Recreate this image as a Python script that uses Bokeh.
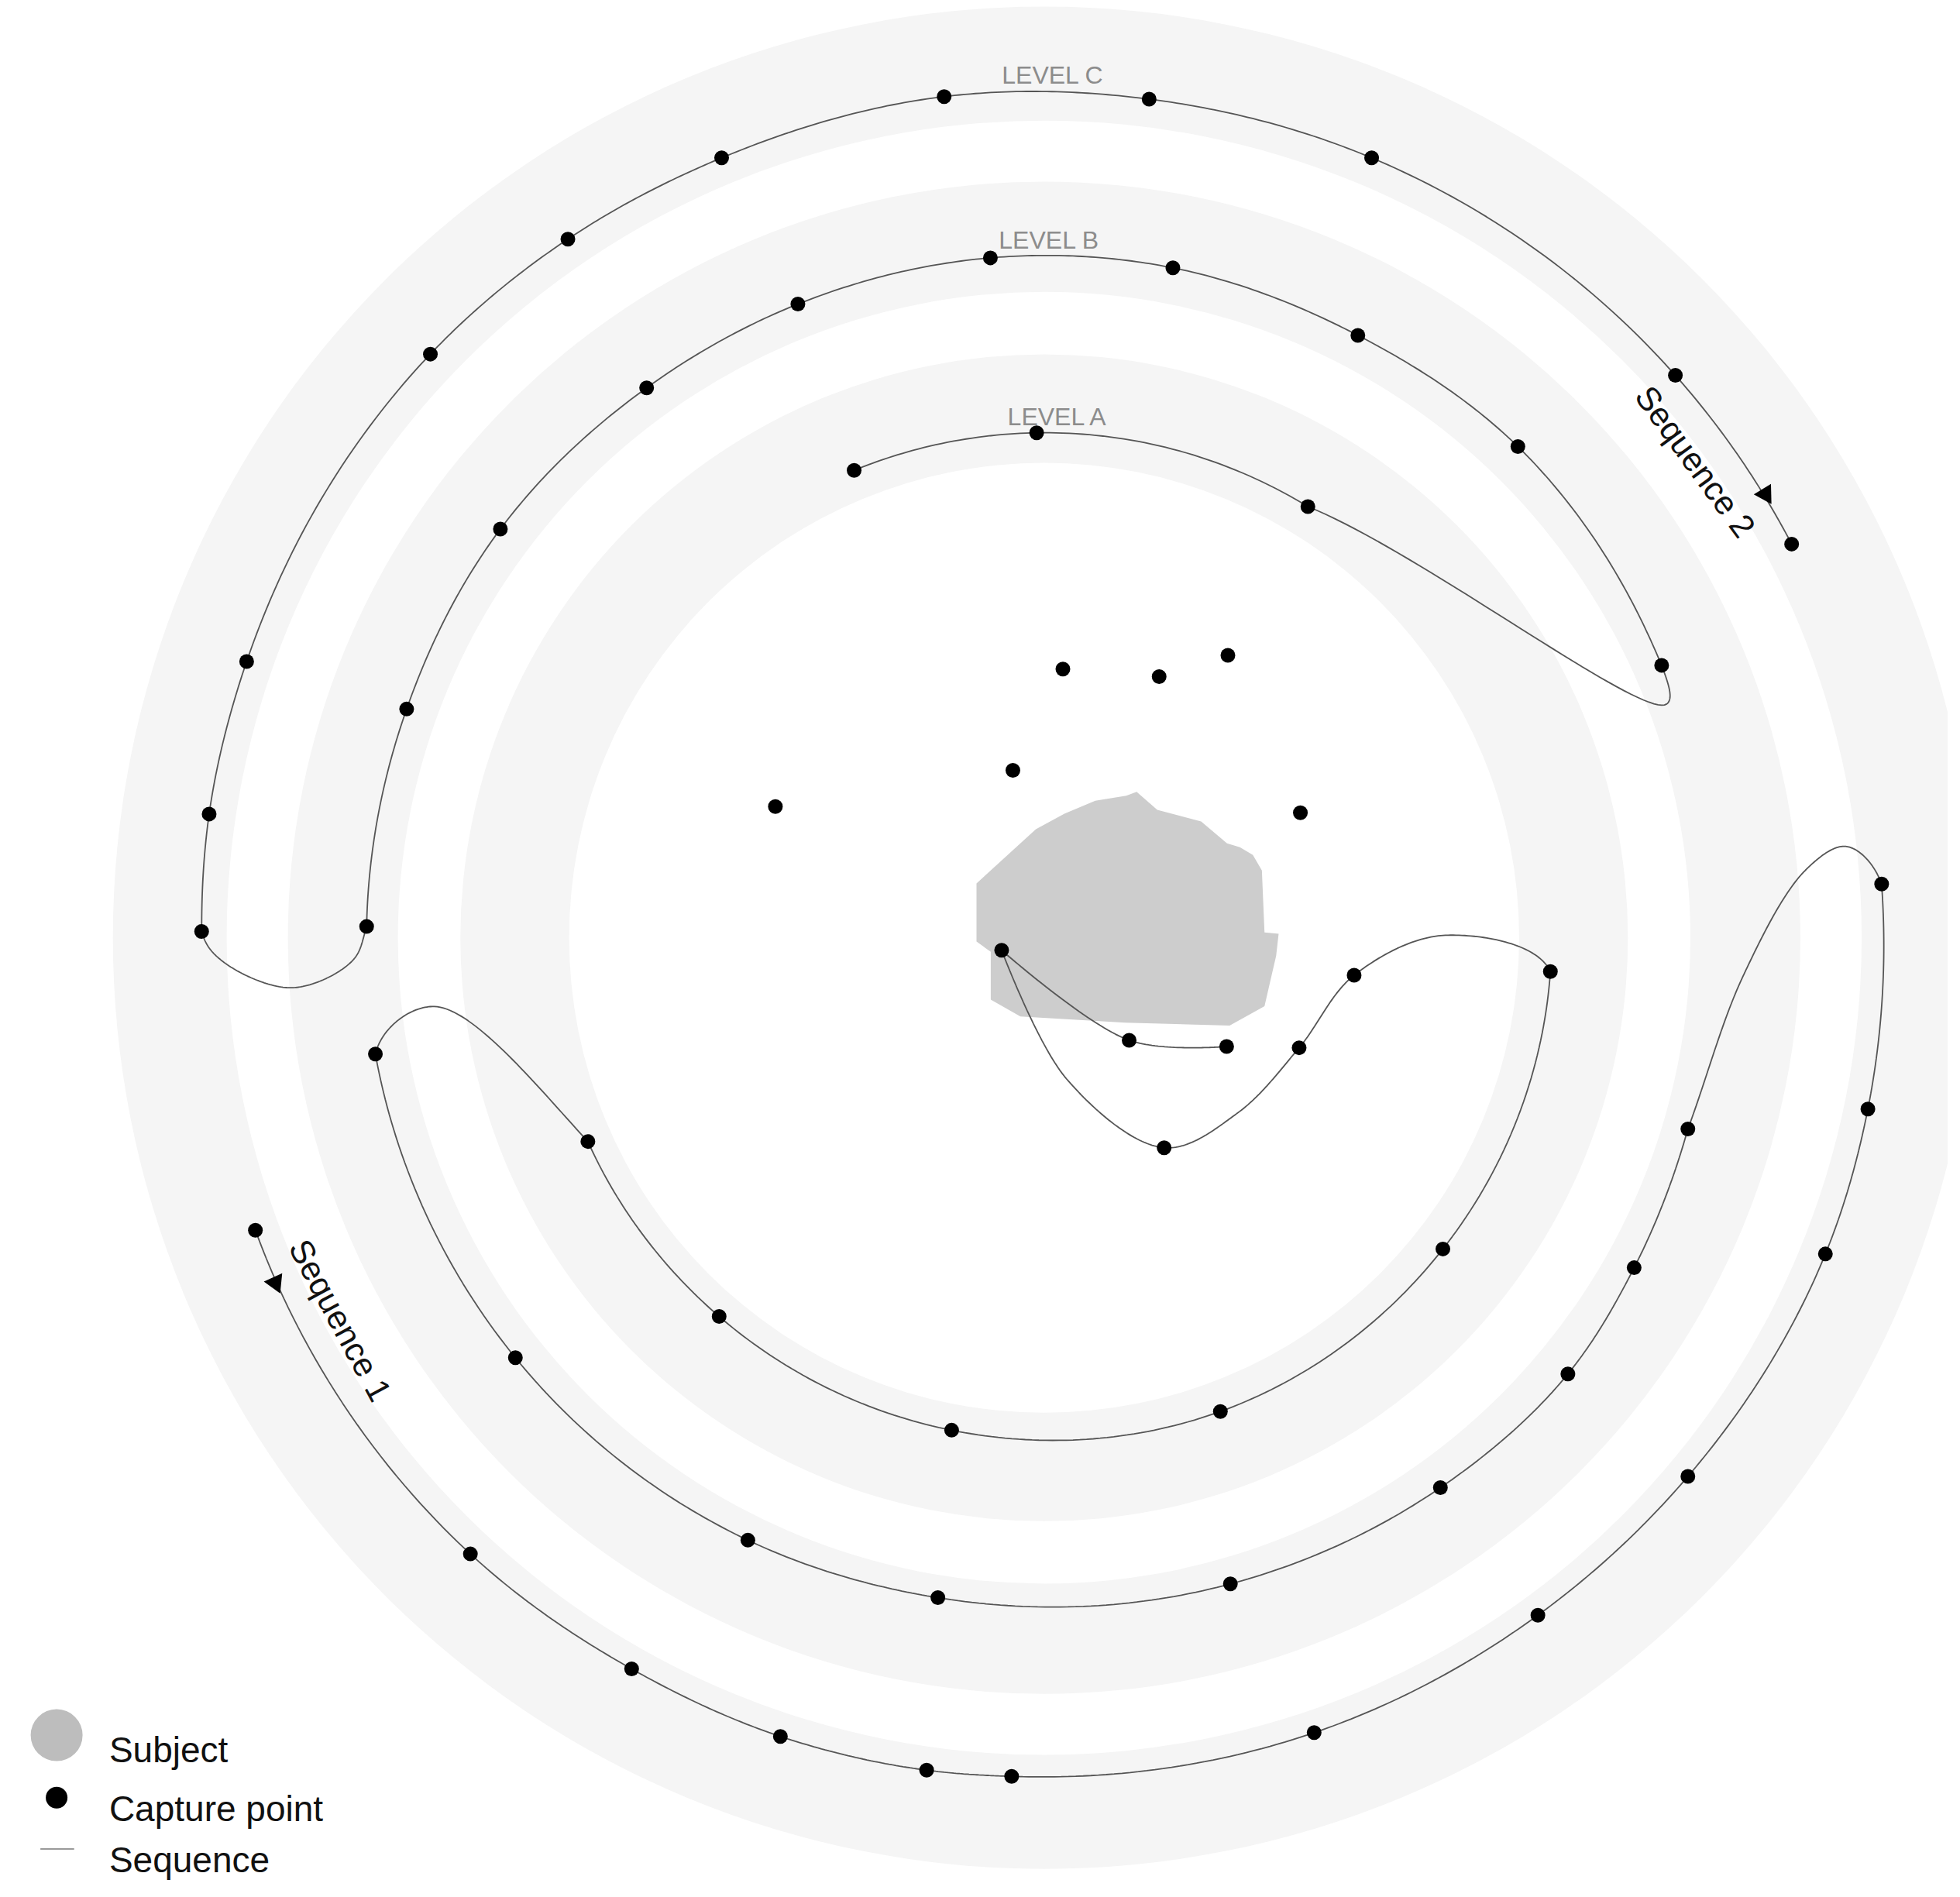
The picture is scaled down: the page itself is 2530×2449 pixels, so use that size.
import numpy as np
from bokeh.plotting import figure
from bokeh.models import Range1d
from bokeh.embed import file_html
from bokeh.resources import INLINE
from bokeh.core.properties import value

# ---------------- data (drawing units) ----------------
ring_center_x = 835
ring_center_y = 750
band_inner = [654, 517, 380]
band_outer = [745, 605, 467]

level_labels = ["LEVEL C", "LEVEL B", "LEVEL A"]
level_label_x = [842, 839, 846]
level_label_y = [60, 192, 333]

# kind: c = capture point, w = path waypoint (no dot), k = capture point with a corner
seq1_x = [204, 376, 505, 624, 741, 809, 1051, 1230, 1350, 1460, 1494, 1505, 1477, 1444, 1394,
          1350, 1307, 1254, 1152, 984, 750, 598, 412, 300, 347,
          470, 575, 761, 976, 1154, 1240, 1156, 1083, 1039, 990, 931, 853, 801, 903, 981]
seq1_y = [984, 1243, 1335, 1389, 1416, 1421, 1386, 1292, 1181, 1003, 887, 707, 677, 696, 781,
          903, 1014, 1099, 1190, 1267, 1278, 1232, 1086, 843, 805,
          913, 1053, 1144, 1129, 999, 777, 748, 780, 838, 890, 918, 863, 760, 832, 837]
seq1_kind = list("cccccccccccc" "www" "ccccccccc" "w" "cccccc" "w" "cc" "w" "c" "w" "k" "cc")

seq2_x = [683, 829, 1046, 1333, 1329, 1214, 1086, 938, 792, 638, 517, 400, 325, 293, 281, 233, 178,
          161, 167, 197, 344, 454, 577, 755, 919, 1097, 1340, 1433]
seq2_y = [376, 346, 405, 563, 532, 357, 268, 214, 206, 243, 310, 423, 567, 741, 769, 790, 769,
          745, 651, 529, 283, 191, 126, 77, 79, 126, 300, 435]
seq2_kind = list("ccc" "w" "cccccccccc" "www" "ccccccccccc")

free_x = [850, 927, 982, 810, 620, 1040]
free_y = [535, 541, 524, 616, 645, 650]

subject_x = [780.9, 828.4, 851.2, 875.9, 900.7, 909.0, 925.5, 960.6, 981.3, 991.6, 1002.0,
             1009.2, 1011.3, 1022.6, 1020.6, 1011.3, 983.4, 900.0, 816.0, 792.3, 792.3, 780.9]
subject_y = [706.5, 663.2, 650.7, 640.4, 636.3, 633.2, 647.7, 657.0, 674.5, 677.6, 683.8,
             696.2, 745.8, 746.8, 764.4, 804.7, 820.2, 818.0, 813.0, 799.5, 761.3, 753.0]

seq_labels = ["Sequence 1", "Sequence 2"]
seq_label_x = [272, 1356]
seq_label_y = [1056, 369]
arrow_x = [220, 1412]
arrow_y = [1026, 395]

legend_labels = ["Subject", "Capture point", "Sequence"]

# ---------------- path construction (centripetal Catmull-Rom) ----------------
def ctrl(p0, p1, p2, p3, alpha=0.5):
    eps = 1e-9
    l01a = np.linalg.norm(p1 - p0) ** alpha
    l12a = np.linalg.norm(p2 - p1) ** alpha
    l23a = np.linalg.norm(p3 - p2) ** alpha
    l01_2a, l12_2a, l23_2a = l01a ** 2, l12a ** 2, l23a ** 2
    c1 = p1.copy()
    if l01a > eps:
        a = 2 * l01_2a + 3 * l01a * l12a + l12_2a
        m = 3 * l01a * (l01a + l12a)
        c1 = (p1 * a - p0 * l12_2a + p2 * l01_2a) / m
    c2 = p2.copy()
    if l23a > eps:
        b = 2 * l23_2a + 3 * l23a * l12a + l12_2a
        m = 3 * l23a * (l23a + l12a)
        c2 = (p2 * b + p1 * l23_2a - p3 * l12_2a) / m
    return c1, c2

def bezier(p1, c1, c2, p2, n=40):
    t = np.linspace(0, 1, n + 1)[1:, None]
    return ((1 - t) ** 3) * p1 + 3 * ((1 - t) ** 2) * t * c1 + 3 * (1 - t) * t ** 2 * c2 + t ** 3 * p2

def build_path(xs, ys, kinds):
    P = np.column_stack([xs, ys]).astype(float)
    n = len(P)
    dx = P[:, 0] - ring_center_x
    dy = P[:, 1] - ring_center_y
    r = np.hypot(dx, dy)
    th = np.arctan2(dy, dx)
    out = [P[0]]
    for i in range(n - 1):
        i0 = i if (i == 0 or kinds[i] == "k") else i - 1
        i3 = i + 1 if (i + 1 == n - 1 or kinds[i + 1] == "k") else i + 2
        idx = [i0, i, i + 1, i3]
        arc = (kinds[i] != "w" and kinds[i + 1] != "w" and abs(r[i] - r[i + 1]) < 20
               and min(r[i], r[i + 1]) > 300)
        if arc:
            ths = np.unwrap(th[idx])
            rr = r[idx].copy()
            if kinds[i0] == "w" or abs(rr[0] - rr[1]) > 20:
                rr[0] = rr[1]
            if kinds[i3] == "w" or abs(rr[3] - rr[2]) > 20:
                rr[3] = rr[2]
            R = 0.5 * (r[i] + r[i + 1])
            Q = np.column_stack([ths * R, rr])
            c1, c2 = ctrl(*Q)
            s = bezier(Q[1], c1, c2, Q[2])
            ang = s[:, 0] / R
            seg = np.column_stack([ring_center_x + s[:, 1] * np.cos(ang),
                                   ring_center_y + s[:, 1] * np.sin(ang)])
        else:
            Q = P[idx]
            c1, c2 = ctrl(*Q)
            seg = bezier(Q[1], c1, c2, Q[2])
        out.extend(seg)
    return np.array(out)

def tangent_at(c, x, y):
    d = np.hypot(c[:, 0] - x, c[:, 1] - y)
    i = int(np.argmin(d))
    j0, j1 = max(i - 4, 0), min(i + 4, len(c) - 1)
    return c[j1] - c[j0]

# ---------------- figure ----------------
W, H = 2514, 2433
K = 2530 / 1568.0          # screen pixels per drawing unit
p = figure(width=W, height=H, x_range=Range1d(0, W / K), y_range=Range1d(H / K, 0),
           output_backend="svg", toolbar_location=None, min_border=0)
p.axis.visible = False
p.grid.visible = False
p.outline_line_color = None
p.background_fill_color = "white"

FONT = "Liberation Sans"

p.annulus(x=[ring_center_x] * 3, y=[ring_center_y] * 3, inner_radius=band_inner,
          outer_radius=band_outer, fill_color="#f5f5f5", line_color=None)

p.patch(subject_x, subject_y, fill_color="#cdcdcd", line_color=None)

p.text(x=level_label_x, y=level_label_y, text=level_labels, text_align="center",
       text_baseline="alphabetic", text_font=value(FONT), text_font_size="32px",
       text_color="#8c8c8c")

curves = {}
for name, xs, ys, ks in [("s1", seq1_x, seq1_y, seq1_kind), ("s2", seq2_x, seq2_y, seq2_kind)]:
    c = build_path(xs, ys, ks)
    curves[name] = c
    p.line(c[:, 0], c[:, 1], line_color="#555555", line_width=1.8)
    cx = [x for x, k in zip(xs, ks) if k != "w"]
    cy = [y for y, k in zip(ys, ks) if k != "w"]
    p.scatter(cx, cy, size=19, marker="circle", fill_color="black", line_color=None)

p.scatter(free_x, free_y, size=19, marker="circle", fill_color="black", line_color=None)

arrow_angles, label_angles = [], []
for i, key in enumerate(["s1", "s2"]):
    d = tangent_at(curves[key], arrow_x[i], arrow_y[i])
    arrow_angles.append(float(np.arctan2(-d[0], -d[1])))
    d = tangent_at(curves[key], seq_label_x[i], seq_label_y[i])
    if d[0] < 0:
        d = -d
    label_angles.append(float(np.arctan2(-d[1], d[0])))

p.scatter(arrow_x, arrow_y, marker="triangle", size=26, angle=arrow_angles,
          fill_color="black", line_color=None)
p.text(x=seq_label_x, y=seq_label_y, text=seq_labels, angle=label_angles,
       text_align="center", text_baseline="middle", text_font=value(FONT),
       text_font_size="43px", text_color="#111111")

# legend
p.scatter([45], [1388], size=67, marker="circle", fill_color="#bdbdbd", line_color=None)
p.scatter([45], [1438], size=28, marker="circle", fill_color="black", line_color=None)
p.line([32, 59], [1479, 1479], line_color="#9a9a9a", line_width=2)
p.text(x=[87, 87, 87], y=[1400, 1447, 1488], text=legend_labels, text_align="left",
       text_baseline="alphabetic", text_font=value(FONT), text_font_size="46px",
       text_color="#111111")

open("out.html", "w").write(file_html(p, INLINE))
